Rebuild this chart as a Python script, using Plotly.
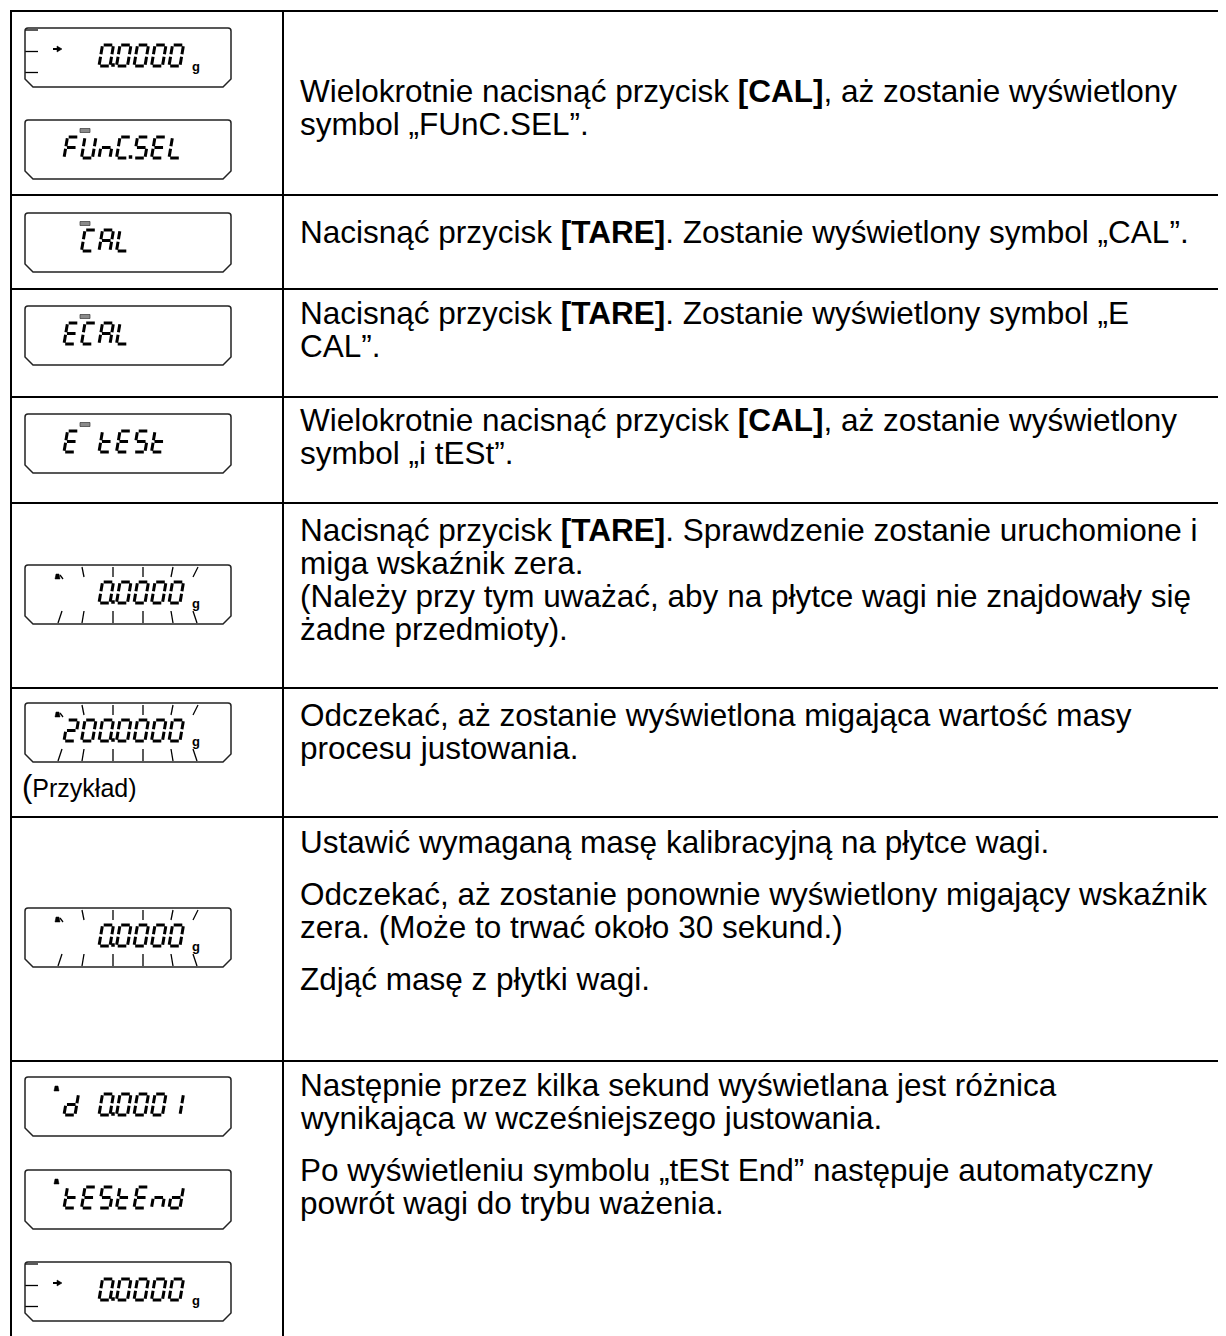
import plotly.graph_objects as go

W, H = 1226, 1336
OFF = 8  # default page body margin

# ---------------- data ----------------
ROW_LINES = [
    ["Wielokrotnie nacisnąć przycisk <b>[CAL]</b>, aż zostanie wyświetlony",
     "symbol \u201eFUnC.SEL\u201d."],
    ["Nacisnąć przycisk <b>[TARE]</b>. Zostanie wyświetlony symbol \u201eCAL\u201d."],
    ["Nacisnąć przycisk <b>[TARE]</b>. Zostanie wyświetlony symbol \u201eE",
     "CAL\u201d."],
    ["Wielokrotnie nacisnąć przycisk <b>[CAL]</b>, aż zostanie wyświetlony",
     "symbol \u201ei tESt\u201d."],
    ["Nacisnąć przycisk <b>[TARE]</b>. Sprawdzenie zostanie uruchomione i",
     "miga wskaźnik zera.",
     "(Należy przy tym uważać, aby na płytce wagi nie znajdowały się",
     "żadne przedmioty)."],
    ["Odczekać, aż zostanie wyświetlona migająca wartość masy",
     "procesu justowania."],
    ["Ustawić wymaganą masę kalibracyjną na płytce wagi.",
     "",
     "Odczekać, aż zostanie ponownie wyświetlony migający wskaźnik",
     "zera. (Może to trwać około 30 sekund.)",
     "",
     "Zdjąć masę z płytki wagi."],
    ["Następnie przez kilka sekund wyświetlana jest różnica",
     "wynikająca w wcześniejszego justowania.",
     "",
     "Po wyświetleniu symbolu \u201etESt End\u201d następuje automatyczny",
     "powrót wagi do trybu ważenia."],
]

DISPLAY_TEXTS = ["  0.0000", "FUnC.SEL", " CAL", "ECAL", "E tESt",
                 "  0.0000", "200.0000", "  0.0000",
                 "d 0.0001", "tEStEnd", "  0.0000"]
DISPLAY_KINDS = ["weigh", "menu", "menu", "menu", "menu",
                 "flash", "flash", "flash",
                 "mark", "mark", "weigh"]
EXAMPLE_LABEL = "Przykład"

# ---------------- layout ----------------
ROW_TOPS = [11, 195, 289, 397, 503, 688, 817, 1061]
TEXT_FIRST_Y = [91, 232, 313, 420, 530, 715, 842, 1085]
DISPLAY_TOPS = [28, 120, 213, 306, 414, 565, 703, 908, 1077, 1170, 1262]
LEFT_X, DIV_X = 11, 283
TEXT_X = 298
LINE_PITCH, GAP_PITCH = 33, 19
DX0, DX1, DH = 25, 231, 59
FONT = "Liberation Sans, Arial, sans-serif"
TEXT_SIZE = 31.5

SEGS = {'0': 'abcdef', '1': 'bc', '2': 'abged', 'F': 'aefg', 'U': 'bcdef',
        'n': 'ceg', 'C': 'adef', 'S': 'afgcd', 'E': 'adefg', 'L': 'def',
        'A': 'abcefg', 't': 'defg', 'd': 'bcdeg'}

CW, CHh, SL, GAP = 11.0, 21.0, 3.5, 1.2
CELL0, PITCH = 39.0, 17.5
SEG_UV = {
    'a': ((0, CHh), (CW, CHh)), 'b': ((CW, CHh), (CW, CHh / 2)),
    'c': ((CW, CHh / 2), (CW, 0)), 'd': ((0, 0), (CW, 0)),
    'e': ((0, CHh / 2), (0, 0)), 'f': ((0, CHh), (0, CHh / 2)),
    'g': ((0, CHh / 2), (CW, CHh / 2)),
}

seg_x, seg_y = [], []
dot_x, dot_y = [], []
thin_x, thin_y = [], []
shapes = []
annotations = []


def pt(cx, base, u, v):
    return cx + u + SL * v / CHh, base - v


def add_char(cx, base, ch):
    for s in SEGS.get(ch, ''):
        (u0, v0), (u1, v1) = SEG_UV[s]
        du, dv = u1 - u0, v1 - v0
        ln = (du * du + dv * dv) ** 0.5
        gu, gv = du / ln * GAP, dv / ln * GAP
        x0, y0 = pt(cx, base, u0 + gu, v0 + gv)
        x1, y1 = pt(cx, base, u1 - gu, v1 - gv)
        seg_x.extend([x0, x1, None])
        seg_y.extend([y0, y1, None])


def thin(pts):
    for (x, y) in pts:
        thin_x.append(x)
        thin_y.append(y)
    thin_x.append(None)
    thin_y.append(None)


def draw_display(text, kind, top):
    bot = top + DH
    path = (f"M {DX0},{top+3} Q {DX0},{top} {DX0+3},{top} L {DX1-3},{top} "
            f"Q {DX1},{top} {DX1},{top+3} L {DX1},{bot-8} L {DX1-8},{bot} "
            f"L {DX0+8},{bot} L {DX0},{bot-8} Z")
    shapes.append(dict(type="path", path=path, xref="x", yref="y",
                       line=dict(color="#222", width=1.5)))
    base = top + 38
    cell = -1
    for ch in text:
        if ch == '.':
            cx = DX0 + CELL0 + cell * PITCH
            dot_x.append(cx + CW + 3.0)
            dot_y.append(base - 1)
            continue
        cell += 1
        add_char(DX0 + CELL0 + cell * PITCH, base, ch)
    if kind == "menu":
        shapes.append(dict(type="rect", xref="x", yref="y",
                           x0=DX0 + 55, x1=DX0 + 65, y0=top + 8.5, y1=top + 12.5,
                           fillcolor="#8a8a8a", line=dict(color="#333", width=0.7)))
    if kind == "weigh":
        for oy in (2, 23.5, 44.5):
            thin([(DX0, top + oy), (DX0 + 13, top + oy)])
        shapes.append(dict(type="line", xref="x", yref="y",
                           x0=DX0 + 28, x1=DX0 + 33, y0=top + 21, y1=top + 21,
                           line=dict(color="black", width=2)))
        shapes.append(dict(type="path", xref="x", yref="y",
                           path=f"M {DX0+32},{top+18} L {DX0+37},{top+21} L {DX0+32},{top+24} Z",
                           fillcolor="black", line=dict(color="black", width=0.5)))
    if kind in ("weigh", "flash"):
        annotations.append(dict(x=DX0 + 171, y=top + 38, xref="x", yref="y",
                                text="<b>g</b>", showarrow=False,
                                font=dict(family=FONT, size=13, color="black"),
                                xanchor="center", yanchor="middle"))
    if kind == "flash":
        tops = [(57, 59), (88, 88), (118, 118), (148, 146), (173, 168)]
        for xt, xb in tops:
            thin([(DX0 + xt, top + 2), (DX0 + xb, top + 12)])
        bots = [(37, 33), (59, 57), (88, 88), (118, 118), (146, 148), (168, 172)]
        for xt, xb in bots:
            thin([(DX0 + xt, top + 46), (DX0 + xb, top + 58)])
        shapes.append(dict(type="path", xref="x", yref="y",
                           path=f"M {DX0+30},{top+14} L {DX0+31},{top+9} L {DX0+34},{top+9} L {DX0+35},{top+14} Z",
                           fillcolor="black", line=dict(color="black", width=0.5)))
        thin([(DX0 + 35, top + 10), (DX0 + 38, top + 14)])
    if kind == "mark":
        shapes.append(dict(type="path", xref="x", yref="y",
                           path=f"M {DX0+29},{top+14} L {DX0+30},{top+9} L {DX0+33},{top+9} L {DX0+34},{top+14} Z",
                           fillcolor="black", line=dict(color="black", width=0.5)))


for text, kind, top in zip(DISPLAY_TEXTS, DISPLAY_KINDS, DISPLAY_TOPS):
    draw_display(text, kind, top)

# table grid
for y in ROW_TOPS:
    shapes.append(dict(type="line", xref="x", yref="y", x0=LEFT_X - 1, x1=W + OFF,
                       y0=y, y1=y, line=dict(color="black", width=2)))
for x in (LEFT_X, DIV_X):
    shapes.append(dict(type="line", xref="x", yref="y", x0=x, x1=x,
                       y0=ROW_TOPS[0] - 1, y1=H + OFF, line=dict(color="black", width=2)))

# text
for lines, y0 in zip(ROW_LINES, TEXT_FIRST_Y):
    y = y0
    for ln in lines:
        if ln == "":
            y += GAP_PITCH
            continue
        annotations.append(dict(x=TEXT_X, y=y, xref="x", yref="y", text=ln,
                                showarrow=False, xanchor="left", yanchor="middle",
                                font=dict(family=FONT, size=TEXT_SIZE, color="black")))
        y += LINE_PITCH

annotations.append(dict(x=20, y=786, xref="x", yref="y",
                        text=f"<span style='font-size:31px'>(</span>{EXAMPLE_LABEL})",
                        showarrow=False, xanchor="left", yanchor="middle",
                        font=dict(family=FONT, size=25, color="black")))

fig = go.Figure()
fig.add_trace(go.Scatter(x=thin_x, y=thin_y, mode="lines",
                         line=dict(color="black", width=1.3), hoverinfo="skip"))
fig.add_trace(go.Scatter(x=seg_x, y=seg_y, mode="lines",
                         line=dict(color="black", width=3), hoverinfo="skip"))
fig.add_trace(go.Scatter(x=dot_x, y=dot_y, mode="markers",
                         marker=dict(symbol="square", size=3.5, color="black"),
                         hoverinfo="skip"))

fig.update_layout(
    width=W, height=H, margin=dict(l=0, r=0, t=0, b=0),
    paper_bgcolor="white", plot_bgcolor="white", showlegend=False,
    xaxis=dict(range=[OFF, W + OFF], visible=False, fixedrange=True),
    yaxis=dict(range=[H + OFF, OFF], visible=False, fixedrange=True),
    shapes=shapes, annotations=annotations,
)
fig.write_html("out.html")
